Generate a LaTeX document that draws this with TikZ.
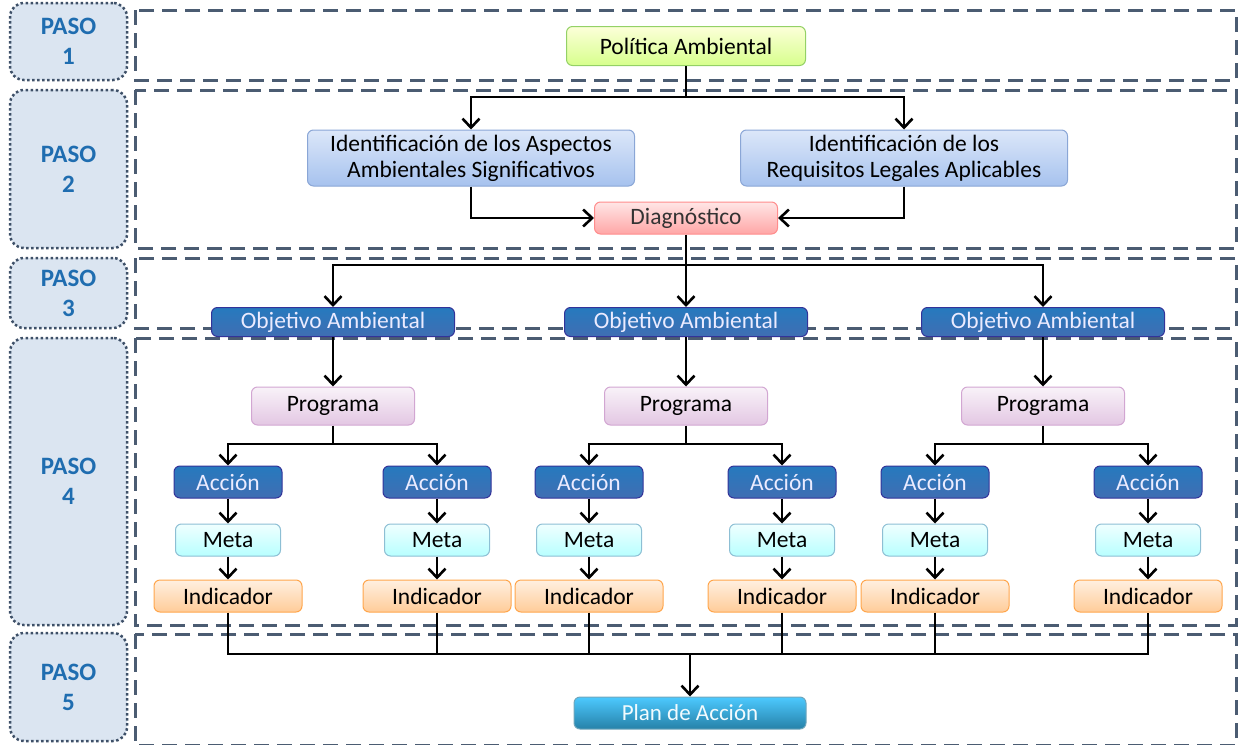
\documentclass[tikz,border=0pt]{standalone}
\usepackage{fontspec}
\setmainfont{Carlito}
\usepackage{tikz}
\usetikzlibrary{arrows}
\usetikzlibrary{arrows.meta}

\definecolor{pasotexto}{HTML}{1F6DB0}
\definecolor{pasofondo}{HTML}{DBE5F1}
\definecolor{pasoborde}{HTML}{3E5068}
\definecolor{zona}{HTML}{4B5C72}
\definecolor{aspalto}{HTML}{DCE7F9}
\definecolor{aspbajo}{HTML}{A6C2EE}
\definecolor{aspborde}{HTML}{8AA6D6}

\tikzset{
  caja/.style={rounded corners=6pt, inner sep=0pt, align=center, line width=1pt,
               font=\fontsize{23.5}{26}\selectfont},
  pasobox/.style={rounded corners=14pt, draw=pasoborde, fill=pasofondo, line width=2.5pt,
               dash pattern=on 2.5pt off 2.5pt, minimum width=117pt, align=center,
               text=pasotexto, font=\fontsize{25}{30}\selectfont\bfseries},
  zonebox/.style={draw=zona, line width=3pt, dash pattern=on 15pt off 8pt},
  politica/.style={caja, draw=green!40!olive!60, top color=green!8!yellow!15, bottom color=green!35!yellow!45,
               minimum width=239pt, minimum height=39pt},
  aspecto/.style={caja, draw=aspborde, top color=aspalto, bottom color=aspbajo,
               minimum width=327pt, minimum height=56pt},
  diagbox/.style={caja, draw=red!45, top color=red!10, bottom color=red!35, text=black!80,
               minimum width=183pt, minimum height=32pt},
  objbox/.style={caja, draw=blue!50!black!80, top color=blue!45!cyan!70!black!85, bottom color=blue!60!cyan!60!black!75,
               text=blue!8, minimum width=243pt, minimum height=29pt},
  progbox/.style={caja, draw=violet!35, top color=violet!5, bottom color=violet!22,
               minimum width=163pt, minimum height=38pt},
  accbox/.style={caja, draw=blue!50!black!80, top color=blue!45!cyan!70!black!85, bottom color=blue!60!cyan!60!black!75,
               text=blue!8, minimum width=108pt, minimum height=32pt},
  metabox/.style={caja, draw=cyan!50!gray!70, top color=cyan!6, bottom color=cyan!28,
               minimum width=105pt, minimum height=32pt},
  indbox/.style={caja, draw=orange!70, top color=orange!12, bottom color=orange!40,
               minimum width=148pt, minimum height=32pt},
  planbox/.style={caja, draw=cyan!60!black!70, top color=cyan!70!blue!70, bottom color=cyan!70!blue!60!black!85,
               text=cyan!5, minimum width=232pt, minimum height=32pt,
               font=\fontsize{23}{27}\selectfont},
  conn/.style={line width=2.6pt, black},
  flecha/.style={conn, -{Straight Barb[length=9pt,width=17pt]}},
}

\begin{document}
\begin{tikzpicture}[x=1pt,y=-1pt]
\useasboundingbox (0,0) rectangle (1239,744);

% Draw the step labels on the left
\node[pasobox, minimum height=77pt]  (paso1) at (68.5, 41.5) {PASO\\1};
\node[pasobox, minimum height=158pt] (paso2) at (68.5,169.0) {PASO\\2};
\node[pasobox, minimum height=70pt]  (paso3) at (68.5,293.0) {PASO\\3};
\node[pasobox, minimum height=287pt] (paso4) at (68.5,481.5) {PASO\\4};
\node[pasobox, minimum height=108pt] (paso5) at (68.5,687.0) {PASO\\5};

% Draw the dashed zones
\draw [zonebox] (135, 10) rectangle (1236, 80);
\draw [zonebox] (135, 90) rectangle (1236,248);
\draw [zonebox] (135,258) rectangle (1236,328);
\draw [zonebox] (135,338) rectangle (1236,625);
\draw [zonebox] (135,634) rectangle (1236,745);

% PASO 1 and 2
\node[politica] (pol) at (686, 46) {Política Ambiental};
\node[aspecto]  (asp) at (471,158) {Identificación de los Aspectos\\Ambientales Significativos};
\node[aspecto]  (req) at (904,158) {Identificación de los\\Requisitos Legales Aplicables};
\node[diagbox]  (dia) at (686,218) {Diagnóstico};

\coordinate (jpol) at (686, 97);
\draw [conn]   (pol) -- (jpol);
\draw [flecha] (jpol) -| (asp);
\draw [flecha] (jpol) -| (req);
\draw [flecha] (asp) |- (dia);
\draw [flecha] (req) |- (dia);

% PASO 3
\node[objbox] (obj1) at ( 333,322) {Objetivo Ambiental};
\node[objbox] (obj2) at ( 686,322) {Objetivo Ambiental};
\node[objbox] (obj3) at (1043,322) {Objetivo Ambiental};

\coordinate (jdia) at (686,265);
\draw [conn]   (dia) -- (jdia);
\draw [flecha] (jdia) -| (obj1);
\draw [flecha] (jdia) -- (obj2);
\draw [flecha] (jdia) -| (obj3);

% PASO 4 : programas
\node[progbox] (prog1) at ( 333,406) {Programa};
\node[progbox] (prog2) at ( 686,406) {Programa};
\node[progbox] (prog3) at (1043,406) {Programa};

\draw [flecha] (obj1) -- (prog1);
\draw [flecha] (obj2) -- (prog2);
\draw [flecha] (obj3) -- (prog3);

% acciones, metas e indicadores
\node[accbox] (acc1) at ( 228,482) {Acción};
\node[accbox] (acc2) at ( 437,482) {Acción};
\node[accbox] (acc3) at ( 589,482) {Acción};
\node[accbox] (acc4) at ( 782,482) {Acción};
\node[accbox] (acc5) at ( 935,482) {Acción};
\node[accbox] (acc6) at (1148,482) {Acción};

\node[metabox] (meta1) at ( 228,540) {Meta};
\node[metabox] (meta2) at ( 437,540) {Meta};
\node[metabox] (meta3) at ( 589,540) {Meta};
\node[metabox] (meta4) at ( 782,540) {Meta};
\node[metabox] (meta5) at ( 935,540) {Meta};
\node[metabox] (meta6) at (1148,540) {Meta};

\node[indbox] (ind1) at ( 228,596) {Indicador};
\node[indbox] (ind2) at ( 437,596) {Indicador};
\node[indbox] (ind3) at ( 589,596) {Indicador};
\node[indbox] (ind4) at ( 782,596) {Indicador};
\node[indbox] (ind5) at ( 935,596) {Indicador};
\node[indbox] (ind6) at (1148,596) {Indicador};

\coordinate (jprog1) at ( 333,444);
\coordinate (jprog2) at ( 686,444);
\coordinate (jprog3) at (1043,444);
\draw [conn]   (prog1) -- (jprog1);
\draw [conn]   (prog2) -- (jprog2);
\draw [conn]   (prog3) -- (jprog3);
\draw [flecha] (jprog1) -| (acc1);
\draw [flecha] (jprog1) -| (acc2);
\draw [flecha] (jprog2) -| (acc3);
\draw [flecha] (jprog2) -| (acc4);
\draw [flecha] (jprog3) -| (acc5);
\draw [flecha] (jprog3) -| (acc6);

\draw [flecha] (acc1) -- (meta1);  \draw [flecha] (meta1) -- (ind1);
\draw [flecha] (acc2) -- (meta2);  \draw [flecha] (meta2) -- (ind2);
\draw [flecha] (acc3) -- (meta3);  \draw [flecha] (meta3) -- (ind3);
\draw [flecha] (acc4) -- (meta4);  \draw [flecha] (meta4) -- (ind4);
\draw [flecha] (acc5) -- (meta5);  \draw [flecha] (meta5) -- (ind5);
\draw [flecha] (acc6) -- (meta6);  \draw [flecha] (meta6) -- (ind6);

% PASO 5
\node[planbox] (plan) at (690,713) {Plan de Acción};

\coordinate (jind) at (690,654);
\draw [conn] (ind1) |- (jind) -| (ind6);
\draw [conn] (ind2) -- (ind2 |- jind);
\draw [conn] (ind3) -- (ind3 |- jind);
\draw [conn] (ind4) -- (ind4 |- jind);
\draw [conn] (ind5) -- (ind5 |- jind);
\draw [flecha] (jind) -- (plan);

\end{tikzpicture}
\end{document}
